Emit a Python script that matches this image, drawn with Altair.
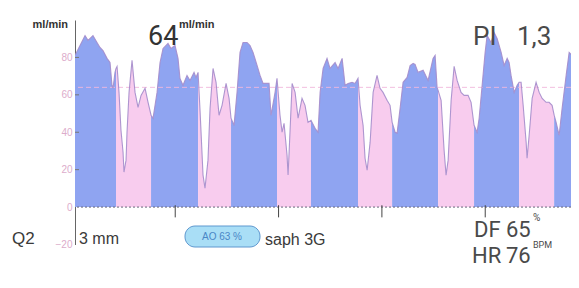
import bisect
import altair as alt
import pandas as pd

# ---- data (time in ms, flow in ml/min) ----
time_ms = [30, 127, 156, 204, 243, 272, 301, 340, 369, 388, 398, 417, 427,
           437, 456, 475, 495, 504, 524, 533, 553, 582, 611, 640, 669, 708, 737, 766,
           785, 824, 853, 882, 930, 959, 998, 1027, 1046, 1075, 1114, 1143, 1182, 1201, 1221,
           1240, 1269, 1288, 1317, 1337, 1366, 1395, 1424, 1453, 1492, 1521, 1540,
           1569, 1598, 1627, 1656, 1695, 1724, 1753, 1792, 1821, 1850, 1889, 1908, 1927, 1966, 1985,
           2014, 2034, 2053, 2082, 2092, 2102, 2131, 2160, 2189, 2227, 2256, 2285, 2314,
           2353, 2382, 2402, 2431, 2469, 2498, 2547, 2576, 2615, 2644, 2673, 2711, 2740, 2769,
           2789, 2818, 2837, 2857, 2886, 2915, 2953, 2982, 3011, 3050, 3079, 3099,
           3128, 3147, 3176, 3205, 3244, 3273, 3302, 3321, 3350, 3399, 3447, 3495, 3515, 3534, 3544,
           3573, 3602, 3621, 3641, 3670, 3699, 3728, 3766, 3796, 3834, 3863, 3892,
           3921, 3941, 3970, 3999, 4018, 4057, 4086, 4115, 4154, 4183, 4212, 4231, 4250, 4280, 4309, 4328,
           4347, 4367, 4396, 4405, 4425, 4454, 4492, 4522, 4551, 4589, 4618, 4647, 4667,
           4686, 4715, 4744, 4783, 4812, 4841, 4889, 4909]
flow = [81.1, 91.7, 89.1, 91.7, 88.0, 85.3, 83.7, 79.5, 77.3, 65.1, 63.5, 72.0, 74.1,
        75.2, 61.3, 41.1, 29.3, 18.7, 25.1, 39.5, 61.3, 78.4, 61.3, 53.3, 59.7, 63.5, 56.0, 49.1,
        47.5, 61.3, 77.3, 84.8, 87.5, 84.8, 86.4, 79.5, 68.8, 65.1, 70.4, 67.7, 72.0, 69.3, 72.0,
        51.7, 17.1, 10.1, 25.1, 52.8, 74.1, 66.7, 49.1, 54.4, 66.1, 58.1, 47.5,
        43.7, 61.3, 82.7, 88.0, 88.0, 86.4, 82.7, 75.7, 70.4, 66.1, 66.1, 66.1, 49.1, 61.3, 68.8,
        49.1, 40.0, 44.8, 27.7, 17.1, 29.3, 66.1, 61.3, 47.5, 58.1, 54.4, 45.3, 46.4,
        42.1, 40.0, 61.3, 74.1, 79.5, 74.1, 77.3, 74.1, 79.5, 65.1, 66.1, 66.7, 66.1, 68.8,
        54.4, 43.7, 26.1, 19.7, 34.7, 61.3, 70.4, 63.5, 61.3, 57.1, 54.4, 45.3,
        40.0, 39.5, 52.8, 66.7, 69.3, 75.7, 76.8, 76.3, 72.0, 73.1, 67.7, 79.5, 81.1, 64.0, 62.4,
        57.1, 30.4, 17.1, 25.1, 57.1, 75.2, 67.7, 61.3, 59.7, 59.7, 56.0, 43.7,
        40.0, 47.5, 65.1, 82.7, 91.7, 88.0, 93.3, 90.1, 82.7, 75.7, 79.5, 77.3, 70.4, 61.3, 65.1, 66.7,
        66.7, 54.4, 34.7, 26.1, 38.4, 58.1, 66.7, 61.3, 58.1, 56.0, 56.0, 54.4, 49.1,
        45.3, 38.4, 52.8, 70.4, 82.7, 81.1, 79.5, 78.4]
# times where the phase switches (systole -> diastole -> systole ...)
phase_bounds = [427, 766, 1221, 1540, 1985, 2314, 2769, 3099, 3544, 3892, 4328, 4667]
phase_names = ["systole", "diastole"]
mean_flow = [64]
zero_line = [0]
tick_times = [1000, 2000, 3000, 4000]
y_ticks = [-20, 0, 20, 40, 60, 80]
inner_ticks = [20, 40, 60, 80]

BLUE = "#8fa4f1"
PINK = "#f8ccee"
LINE = "#a48ccb"
TXT = "#4a4a4a"
FONT = "Liberation Sans, Arial, sans-serif"
BIG = "Roboto, Liberation Sans, sans-serif"

rows = []
for t, f in zip(time_ms, flow):
    k = bisect.bisect_left(phase_bounds, t)
    segs = [k]
    if k < len(phase_bounds) and phase_bounds[k] == t:
        segs.append(k + 1)
    for s in segs:
        rows.append({"t": t, "flow": f, "seg": s, "phase": phase_names[s % 2]})
df = pd.DataFrame(rows)
line_df = pd.DataFrame({"t": time_ms, "flow": flow})

xs = alt.Scale(domain=[30, 4830])
ys = alt.Scale(domain=[-20, 100], nice=False, zero=False)
yaxis = alt.Axis(values=y_ticks, grid=False, title=None, domainColor="#666",
                 ticks=False, labelPadding=3,
                 labelColor="#dcaccb", labelFontSize=10, labelFont=FONT,
                 domainWidth=1)

area = alt.Chart(df).mark_area(clip=True, interpolate="linear").encode(
    x=alt.X("t:Q", scale=xs, axis=None),
    y=alt.Y("flow:Q", scale=ys, stack=None, title=None, axis=yaxis),
    y2=alt.datum(0),
    color=alt.Color("phase:N", scale=alt.Scale(domain=phase_names, range=[BLUE, PINK]), legend=None),
    detail="seg:N",
)

line = alt.Chart(line_df).mark_line(clip=True, color=LINE, strokeWidth=1.1, opacity=0.9).encode(
    x=alt.X("t:Q", scale=xs, axis=None),
    y=alt.Y("flow:Q", scale=ys, title=None, axis=yaxis),
)

mean_rule = alt.Chart(pd.DataFrame({"flow": mean_flow})).mark_rule(
    color="#efb6dc", strokeWidth=1, strokeDash=[5, 3], opacity=0.9).encode(
    y=alt.Y("flow:Q", scale=ys, title=None, axis=yaxis))

zero_rule = alt.Chart(pd.DataFrame({"flow": zero_line})).mark_rule(
    color="#66667a", strokeWidth=1, strokeDash=[2, 2]).encode(
    y=alt.Y("flow:Q", scale=ys, title=None, axis=yaxis))

ticks = alt.Chart(pd.DataFrame({"t": tick_times, "flow": [1] * 4, "hi": [-5.5] * 4})).mark_rule(
    color="#444", strokeWidth=1).encode(
    x=alt.X("t:Q", scale=xs, axis=None),
    y=alt.Y("flow:Q", scale=ys, title=None, axis=yaxis), y2="hi:Q")

yticks = alt.Chart(pd.DataFrame({"flow": inner_ticks})).mark_rule(
    color="#777", strokeWidth=1).encode(
    y=alt.Y("flow:Q", scale=ys, title=None, axis=yaxis),
    x=alt.value(0), x2=alt.value(4))

one = pd.DataFrame({"a": [0]})


def label(text, x, y, size, align="left", baseline="alphabetic", color=TXT, weight="normal", font=FONT):
    return alt.Chart(one).mark_text(text=text, align=align, baseline=baseline, fontSize=size,
                                    font=font, color=color, fontWeight=weight).encode(
        x=alt.value(x), y=alt.value(y))


pill = alt.Chart(one).mark_rect(cornerRadius=10, fill="#a9def6", stroke="#5f98cf",
                                strokeWidth=1).encode(
    x=alt.value(110), x2=alt.value(185), y=alt.value(206), y2=alt.value(227))

texts = [
    label("ml/min", -7, 5, 11, align="right", baseline="middle", color="#333", weight="bold"),
    label("64", 73, 25, 27, color="#333", font=BIG),
    label("ml/min", 104, 5, 11, baseline="middle", color="#333", weight="bold"),
    label("PI", 398, 25, 26, font=BIG),
    label("1,3", 442, 25, 26, font=BIG),
    label("Q2", -63, 224, 17, color="#3a3a3a"),
    label("3 mm", 4, 224, 16, color="#3a3a3a"),
    label("AO 63 %", 147, 217, 10, align="center", baseline="middle", color="#4a86c6"),
    label("saph 3G", 190, 225, 16, color="#3a3a3a"),
    label("DF", 399, 217, 22, font=BIG),
    label("65", 431, 217, 22, font=BIG),
    label("%", 458, 198, 10, baseline="middle", font=BIG),
    label("HR", 397, 243, 22, font=BIG),
    label("76", 431, 243, 22, font=BIG),
    label("BPM", 458, 225, 9, baseline="middle", font=BIG),
]

chart = alt.layer(area, mean_rule, line, zero_rule, ticks, yticks, pill, *texts).properties(
    width=496, height=224.5,
    autosize=alt.AutoSizeParams(type="none"),
    padding={"left": 67, "top": 12, "right": 0, "bottom": 36},
    background="white",
).configure_view(stroke=None)

chart.save("out.html", embed_options={"renderer": "svg", "actions": False})
